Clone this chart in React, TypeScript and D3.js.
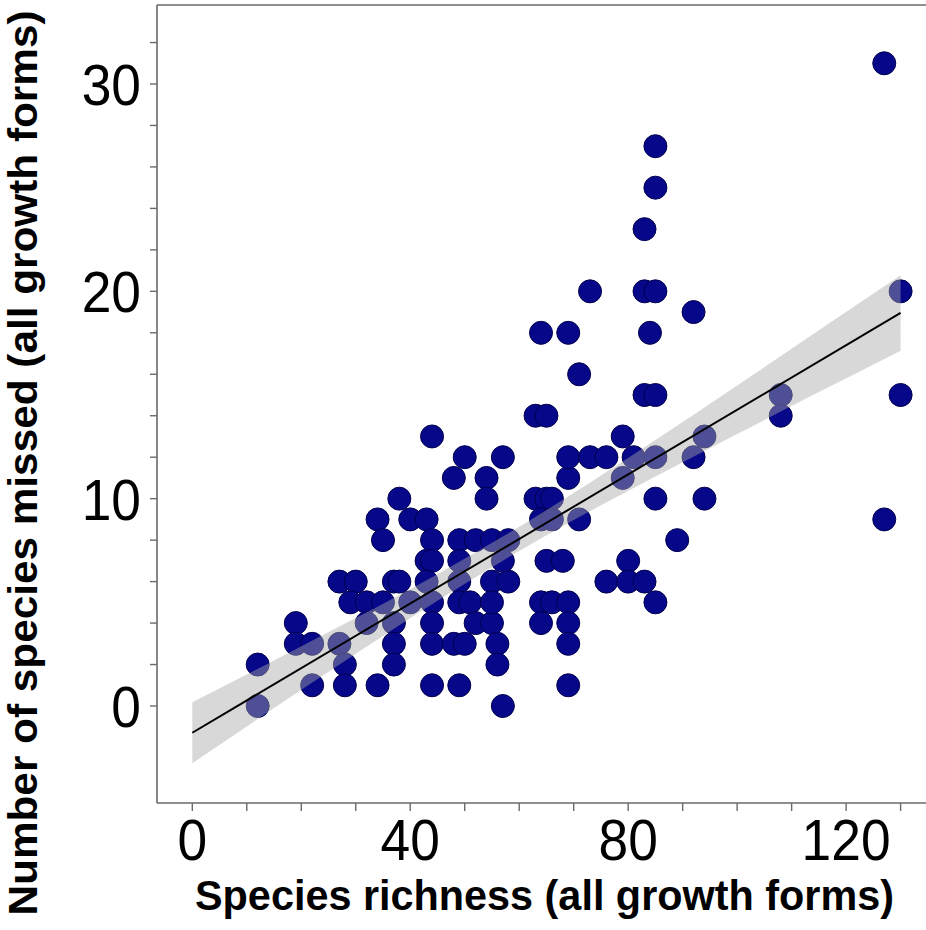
import React from "react";
import * as d3 from "d3";

// Species richness (x) and number of species missed (y), one entry per plot
const richness = [
  12, 12, 19, 19, 22, 22, 27, 30, 27, 28, 28, 29, 32, 35, 32,
  34, 35, 38, 40, 43, 37, 38, 37, 37, 37, 34, 40,
  44, 44, 43, 44, 43, 44, 44, 44, 44,
  48, 50, 49, 49, 49, 49, 51, 48, 50, 49,
  52, 55, 58, 54, 54, 52, 55, 55, 58, 55, 56, 56, 57, 57, 57,
  63, 65, 63, 65, 66, 64, 66, 71, 65, 68, 64, 66, 69, 64, 69, 69, 69,
  69, 69, 73, 76, 64, 69, 71, 73,
  79, 79, 80, 76, 80, 83, 81, 85, 85, 85, 89,
  83, 85, 85, 83, 85, 84, 83, 85,
  92, 92, 94, 94, 108, 108, 127, 127, 130, 130,
];
const missed = [
  2, 0, 4, 3, 3, 1, 6, 6, 3, 2, 1, 5, 5, 5, 4,
  9, 8, 10, 9, 9, 6, 6, 4, 3, 2, 1, 5,
  13, 8, 7, 7, 6, 5, 4, 3, 1,
  11, 12, 8, 7, 6, 5, 5, 3, 3, 1,
  8, 8, 8, 11, 10, 4, 4, 6, 6, 5, 3, 2, 7, 12, 0,
  14, 14, 10, 10, 10, 9, 9, 9, 7, 7, 5, 5, 5, 4, 4, 3, 1,
  11, 12, 12, 12, 18, 18, 16, 20,
  13, 11, 7, 6, 6, 6, 12, 12, 10, 5, 8,
  23, 25, 27, 20, 20, 18, 15, 15,
  19, 12, 13, 10, 15, 14, 31, 9, 20, 15,
];

// Fitted regression line and its confidence band
const fitX = [0, 130];
const fitY = [-1.29, 18.96];
const bandX = [0, 15, 30, 45, 57, 70, 85, 100, 115, 130];
const bandLo = [-2.76, -0.1, 2.52, 5.08, 7.01, 8.97, 11.07, 13.12, 15.14, 17.14];
const bandHi = [0.18, 2.2, 4.24, 6.36, 8.17, 10.27, 12.83, 15.46, 18.12, 20.78];

const xLabels = [0, 40, 80, 120];
const yLabels = [0, 10, 20, 30];
const xMinor = d3.range(0, 131, 10);
const yMinor = d3.range(0, 33, 2);

const W = 926;
const H = 930;
const left = 157;
const top = 5;
const bottom = 803;

const FONT = "'Liberation Sans', Arial, sans-serif";

export default function App() {
  const x = d3.scaleLinear().domain([0, 130]).range([192.3, 900.6]);
  const y = d3.scaleLinear().domain([0, 30]).range([706, 84]);

  const points = richness.map((r, i) => ({ r, m: missed[i] }));

  const bandPath =
    d3
      .area<number>()
      .x((_, i) => x(bandX[i]))
      .y0((_, i) => y(bandLo[i]))
      .y1((_, i) => y(bandHi[i]))
      .curve(d3.curveMonotoneX)(bandX) || "";

  const linePath =
    d3
      .line<number>()
      .x((_, i) => x(fitX[i]))
      .y((_, i) => y(fitY[i]))(fitX) || "";

  const axisColor = "#6a6a6a";

  return (
    <svg
      width={W}
      height={H}
      style={{ position: "absolute", left: 0, top: 0, background: "#fff" }}
      fontFamily={FONT}
    >
      <defs>
        <clipPath id="plotArea">
          <rect x={left} y={top} width={W - left + 10} height={bottom - top} />
        </clipPath>
      </defs>

      {/* frame */}
      <line x1={left} x2={W + 5} y1={top} y2={top} stroke={axisColor} strokeWidth={1.6} />
      <line x1={left} x2={left} y1={top} y2={bottom} stroke={axisColor} strokeWidth={1.6} />
      <line x1={left} x2={W + 5} y1={bottom} y2={bottom} stroke={axisColor} strokeWidth={1.6} />

      {/* ticks */}
      {xMinor.map((v) => (
        <line key={"xt" + v} x1={x(v)} x2={x(v)} y1={bottom} y2={bottom + 8} stroke={axisColor} strokeWidth={1.4} />
      ))}
      {yMinor.map((v) => (
        <line key={"yt" + v} x1={left - 7} x2={left} y1={y(v)} y2={y(v)} stroke={axisColor} strokeWidth={1.4} />
      ))}

      <g clipPath="url(#plotArea)">
        {points.map((p, i) => (
          <circle
            key={i}
            cx={x(p.r)}
            cy={y(p.m)}
            r={11.5}
            fill="#07078a"
            stroke="#00004e"
            strokeWidth={1}
          />
        ))}
        <path d={bandPath} fill="#a9a9a9" fillOpacity={0.45} />
        <path d={linePath} fill="none" stroke="#000" strokeWidth={2} />
      </g>

      {/* tick labels */}
      {xLabels.map((v) => (
        <text
          key={"xl" + v}
          transform={`translate(${x(v)},860) scale(0.92,1)`}
          textAnchor="middle"
          fontSize={58}
          fill="#000"
        >
          {v}
        </text>
      ))}
      {yLabels.map((v) => (
        <text
          key={"yl" + v}
          transform={`translate(141,${y(v) + 21}) scale(0.92,1)`}
          textAnchor="end"
          fontSize={58}
          fill="#000"
        >
          {v}
        </text>
      ))}

      {/* axis titles */}
      <text
        x={544.5}
        y={910}
        textAnchor="middle"
        fontSize={43}
        fontWeight="bold"
        textLength={699}
        lengthAdjust="spacingAndGlyphs"
        fill="#000"
      >
        Species richness (all growth forms)
      </text>
      <text
        transform="translate(37,463) rotate(-90)"
        textAnchor="middle"
        fontSize={41}
        fontWeight="bold"
        textLength={905}
        lengthAdjust="spacingAndGlyphs"
        fill="#000"
      >
        Number of species missed (all growth forms)
      </text>
    </svg>
  );
}
